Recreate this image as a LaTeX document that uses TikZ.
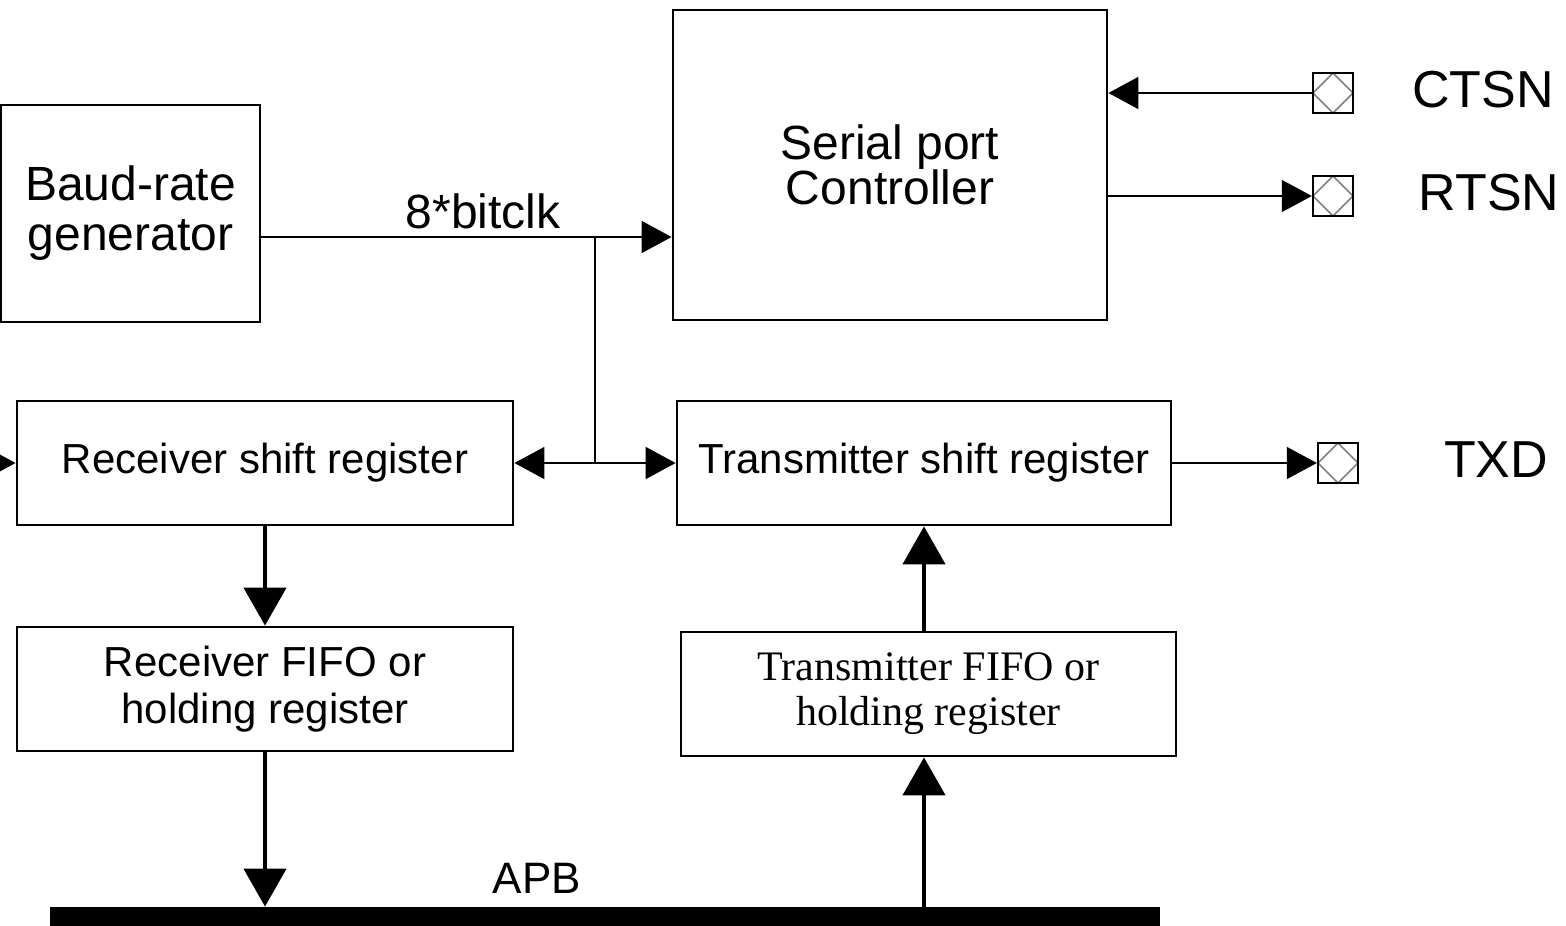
\documentclass[tikz,border=0pt]{standalone}
\usepackage{fontspec}
\setmainfont{Liberation Sans}
\newfontfamily\timesfont{Liberation Serif}
\usetikzlibrary{arrows.meta}

\begin{document}
\begin{tikzpicture}[
  x=0.5pt, y=-0.5pt,
  every node/.style={inner sep=0pt, font=\fontsize{21}{23.5}\selectfont},
  block/.style={draw, line width=1.4pt, align=center},
  pad/.style={draw, line width=1.2pt, minimum size=20pt,
    path picture={\draw[gray, line width=0.8pt]
      (path picture bounding box.north) -- (path picture bounding box.east)
      -- (path picture bounding box.south) -- (path picture bounding box.west)
      -- cycle;}},
  sig/.style={line width=0.75pt, -{Triangle[length=15pt,width=16pt]}},
  bus/.style={line width=2.2pt, -{Triangle[length=19pt,width=21pt]}}
]
\useasboundingbox (0,0) rectangle (1566,925);
\node[block, minimum width=129.5pt, minimum height=108.5pt,
  font=\fontsize{24}{25}\selectfont] (baud) at (130.5,213.5) {Baud-rate\\generator};
\node[block, minimum width=217pt, minimum height=155pt,
  font=\fontsize{24}{22.5}\selectfont] (ctrl) at (890,165) {Serial port\\Controller};
\node[block, minimum width=248pt, minimum height=62pt] (rxshift) at (265,463)
  {Receiver shift register};
\node[block, minimum width=247pt, minimum height=62pt] (txshift) at (924,463)
  {Transmitter shift register};
\node[block, minimum width=248pt, minimum height=62pt] (rxfifo) at (265,689)
  {Receiver FIFO or\\holding register};
\node[block, minimum width=247.5pt, minimum height=62pt,
  font=\timesfont\fontsize{21}{22.5}\selectfont] (txfifo) at (928.5,694)
  {Transmitter FIFO or\\holding register};
\node[fill, minimum width=555pt, minimum height=14pt] (apb) at (605,921) {};
\node[font=\fontsize{22}{24}\selectfont] (apblabel) at (537,878) {APB};
\node[pad] (ctsnpad) at (1333,93) {};
\node[pad] (rtsnpad) at (1333,196) {};
\node[pad] (txdpad) at (1338,463) {};
\node[font=\fontsize{26}{28}\selectfont] (ctsn) at (1483,90) {CTSN};
\node[font=\fontsize{26}{28}\selectfont] (rtsn) at (1489,193) {RTSN};
\node[font=\fontsize{26}{28}\selectfont] (txd) at (1496,460) {TXD};
\node[font=\fontsize{24}{26}\selectfont] (clklabel) at (483,211) {8*bitclk};
\coordinate (clk) at (595,237);
\coordinate (rxin) at (-20,463);
\draw[sig] (baud.east |- clk) -- (ctrl.west |- clk);
\draw[line width=0.75pt] (clk) -- (clk |- rxshift);
\draw[sig] (clk |- rxshift) -- (rxshift.east);
\draw[sig] (clk |- rxshift) -- (txshift.west);
\draw[sig] (ctsnpad.west) -- (ctsnpad.west -| ctrl.east);
\draw[sig] (ctrl.east |- rtsnpad) -- (rtsnpad.west);
\draw[sig] (txshift.east) -- (txdpad.west);
\draw[sig] (rxin) -- (rxshift.west);
\draw[bus] (rxshift.south) -- (rxfifo.north);
\draw[bus] (rxfifo.south) -- (rxfifo.south |- apb.north);
\draw[bus] (txshift.south |- apb.north) -- (txshift.south |- txfifo.south);
\draw[bus] (txshift.south |- txfifo.north) -- (txshift.south);
\end{tikzpicture}
\end{document}
